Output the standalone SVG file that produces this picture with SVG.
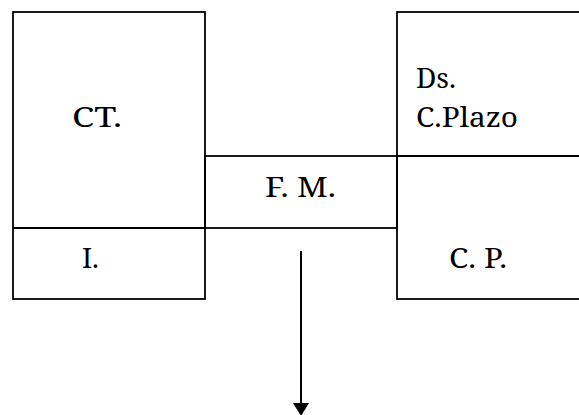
<svg xmlns="http://www.w3.org/2000/svg" width="579" height="415" viewBox="0 0 579 415">
  <style>
    .box { fill: none; stroke: #000; stroke-width: 1.8; }
    .lbl { font-family: 'Noto Serif', 'DejaVu Serif', 'Liberation Serif', serif; font-size: 27px; fill: #000; }
    .flow { stroke: #000; stroke-width: 2; fill: none; }
  </style>
  <defs>
    <marker id="head" markerUnits="userSpaceOnUse" markerWidth="13" markerHeight="16" refX="0" refY="8" orient="auto" viewBox="0 0 13 16">
      <path d="M0,0 L13,8 L0,16 Z" fill="#000"/>
    </marker>
  </defs>
  <rect width="579" height="415" fill="#fff"/>

  <!-- left block: current assets over investments -->
  <g id="activo">
    <rect class="box" x="13" y="12" width="192" height="287"/>
    <line class="box" x1="13" y1="228" x2="205" y2="228"/>
    <text class="lbl" x="72" y="127" textLength="50" lengthAdjust="spacingAndGlyphs">CT.</text>
    <text class="lbl" x="82" y="268" textLength="17" lengthAdjust="spacingAndGlyphs">I.</text>
  </g>

  <!-- middle band: working capital -->
  <g id="fondo-maniobra">
    <rect class="box" x="205" y="156" width="192" height="72"/>
    <text class="lbl" x="265" y="197" textLength="71" lengthAdjust="spacingAndGlyphs">F. M.</text>
  </g>

  <!-- right block: short-term debt over equity -->
  <g id="pasivo">
    <rect class="box" x="397" y="12" width="200" height="287"/>
    <line class="box" x1="397" y1="156" x2="579" y2="156"/>
    <text class="lbl" x="416" y="88" textLength="40" lengthAdjust="spacingAndGlyphs">Ds.</text>
    <text class="lbl" x="416" y="127" textLength="102" lengthAdjust="spacingAndGlyphs">C.Plazo</text>
    <text class="lbl" x="449" y="268" textLength="58" lengthAdjust="spacingAndGlyphs">C. P.</text>
  </g>

  <g id="connectors">
    <line class="flow" x1="301" y1="251" x2="301" y2="403" marker-end="url(#head)"/>
  </g>
</svg>
